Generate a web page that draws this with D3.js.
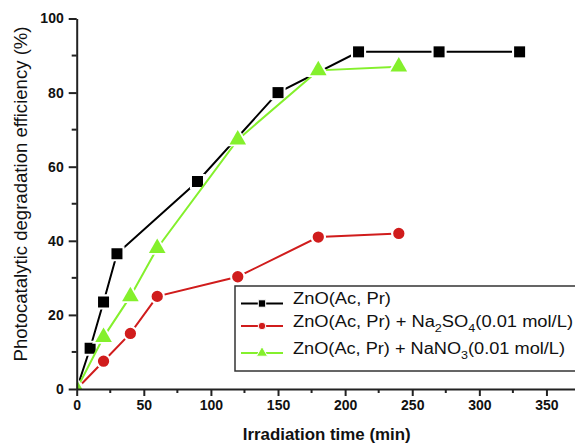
<!DOCTYPE html>
<html>
<head>
<meta charset="utf-8">
<script src="https://cdn.jsdelivr.net/npm/d3@7"></script>
<style>
  body { margin: 0; background: #fff; }
  text { font-family: "Liberation Sans", Arial, sans-serif; }
</style>
</head>
<body>
<div id="chart"></div>
<script>
// Irradiation time (min) for each series
const timePure = [0, 10, 20, 30, 90, 150, 210, 270, 330];
const timeSalt = [0, 20, 40, 60, 120, 180, 240];

// Photocatalytic degradation efficiency (%)
const effPure = [0, 11, 23.5, 36.5, 56, 80, 91, 91, 91];
const effSulfate = [0, 7.5, 15, 25, 30.3, 41, 42];
const effNitrate = [0, 14, 25, 38, 67.3, 86, 87];

const xTicks = [0, 50, 100, 150, 200, 250, 300, 350];
const yTicks = [0, 20, 40, 60, 80, 100];

const width = 575, height = 444;

const svg = d3.select("#chart").append("svg")
    .attr("width", width)
    .attr("height", height);

const x = d3.scaleLinear().domain([0, 375]).range([76.7, 580]);
const y = d3.scaleLinear().domain([0, 100]).range([389, 18.5]);

const series = [
    { name: "pure", xs: timePure, ys: effPure, color: "#000000", shape: d3.symbolSquare, size: 121 },
    { name: "sulfate", xs: timeSalt, ys: effSulfate, color: "#d01c1c", shape: d3.symbolCircle, size: 100 },
    { name: "nitrate", xs: timeSalt, ys: effNitrate, color: "#84f02c", shape: d3.symbolTriangle, size: 120 }
];

// clip data to the plot area
svg.append("clipPath").attr("id", "plotClip")
    .append("rect")
    .attr("x", x(0))
    .attr("y", 0)
    .attr("width", width - x(0))
    .attr("height", y(0));

const plot = svg.append("g").attr("clip-path", "url(#plotClip)");

const line = d3.line()
    .x(d => x(d[0]))
    .y(d => y(d[1]));

series.forEach(s => {
    const pts = s.xs.map((t, i) => [t, s.ys[i]]);

    plot.append("path")
        .datum(pts)
        .attr("d", line)
        .attr("fill", "none")
        .attr("stroke", s.color)
        .attr("stroke-width", 2);

    // white halo so the line stops short of each marker
    plot.selectAll(null)
        .data(pts)
        .enter().append("path")
        .attr("transform", d => `translate(${x(d[0])},${y(d[1])})`)
        .attr("d", d3.symbol().type(s.shape).size(s.size * 1.9))
        .attr("fill", "#fff");

    plot.selectAll(null)
        .data(pts)
        .enter().append("path")
        .attr("transform", d => `translate(${x(d[0])},${y(d[1])})`)
        .attr("d", d3.symbol().type(s.shape).size(s.size))
        .attr("fill", s.color);
});

// axes
const xAxis = svg.append("g")
    .attr("transform", `translate(0,${y(0)})`)
    .call(d3.axisBottom(x).tickValues(xTicks).tickSize(7).tickSizeOuter(0).tickPadding(4));

const yAxis = svg.append("g")
    .attr("transform", `translate(${x(0)},0)`)
    .call(d3.axisLeft(y).tickValues(yTicks).tickSize(8).tickSizeOuter(0).tickPadding(5));

[xAxis, yAxis].forEach(g => {
    g.select(".domain").attr("stroke", "#222").attr("stroke-width", 2);
    g.selectAll(".tick line").attr("stroke", "#222").attr("stroke-width", 2);
    g.selectAll(".tick text")
        .attr("fill", "#111")
        .style("font-family", "Liberation Sans, Arial, sans-serif")
        .style("font-size", "14px")
        .style("font-weight", "bold");
});

// minor ticks
xAxis.selectAll(".minor")
    .data(d3.range(25, 376, 50))
    .enter().append("line")
    .attr("x1", d => x(d)).attr("x2", d => x(d))
    .attr("y1", 0).attr("y2", 4)
    .attr("stroke", "#222").attr("stroke-width", 2);

yAxis.selectAll(".minor")
    .data(d3.range(10, 100, 20))
    .enter().append("line")
    .attr("x1", -5).attr("x2", 0)
    .attr("y1", d => y(d)).attr("y2", d => y(d))
    .attr("stroke", "#222").attr("stroke-width", 2);

// axis titles (start-anchored so textLength stretches from a known edge)
svg.append("text")
    .attr("x", 242.7)
    .attr("y", 439.5)
    .attr("textLength", 168)
    .attr("lengthAdjust", "spacingAndGlyphs")
    .style("font-size", "17px")
    .style("font-weight", "bold")
    .attr("fill", "#111")
    .text("Irradiation time (min)");

svg.append("text")
    .attr("transform", "translate(27,361.5) rotate(-90)")
    .attr("textLength", 335)
    .attr("lengthAdjust", "spacingAndGlyphs")
    .style("font-size", "18px")
    .attr("fill", "#111")
    .text("Photocatalytic degradation efficiency (%)");

// legend
const legend = svg.append("g");

legend.append("rect")
    .attr("x", 235)
    .attr("y", 286)
    .attr("width", 345)
    .attr("height", 85)
    .attr("fill", "#fff")
    .attr("stroke", "#333")
    .attr("stroke-width", 1.5);

const legendRows = [
    { s: series[0], cy: 303.5, len: 98, parts: [["ZnO(Ac, Pr)", false]] },
    { s: series[1], cy: 326, len: 280, parts: [["ZnO(Ac, Pr) + Na", false], ["2", true], ["SO", false], ["4", true], ["(0.01 mol/L)", false]] },
    { s: series[2], cy: 353, len: 272, parts: [["ZnO(Ac, Pr) + NaNO", false], ["3", true], ["(0.01 mol/L)", false]] }
];

legendRows.forEach(r => {
    legend.append("line")
        .attr("x1", 241).attr("x2", 283)
        .attr("y1", r.cy).attr("y2", r.cy)
        .attr("stroke", r.s.color)
        .attr("stroke-width", 2);

    legend.append("path")
        .attr("transform", `translate(262,${r.cy})`)
        .attr("d", d3.symbol().type(r.s.shape).size(r.s.size * 0.45))
        .attr("fill", r.s.color)
        .attr("stroke", "#fff")
        .attr("stroke-width", 1);

    const t = legend.append("text")
        .attr("x", 293)
        .attr("y", r.cy + 5.5)
        .attr("textLength", r.len)
        .attr("lengthAdjust", "spacingAndGlyphs")
        .style("font-size", "16px")
        .attr("fill", "#111");

    r.parts.forEach(p => {
        if (p[1]) {
            t.append("tspan").attr("dy", 5).style("font-size", "11px").text(p[0]);
        } else {
            t.append("tspan").attr("dy", t.selectAll("tspan").size() ? -5 : 0).text(p[0]);
        }
    });
});
</script>
</body>
</html>
